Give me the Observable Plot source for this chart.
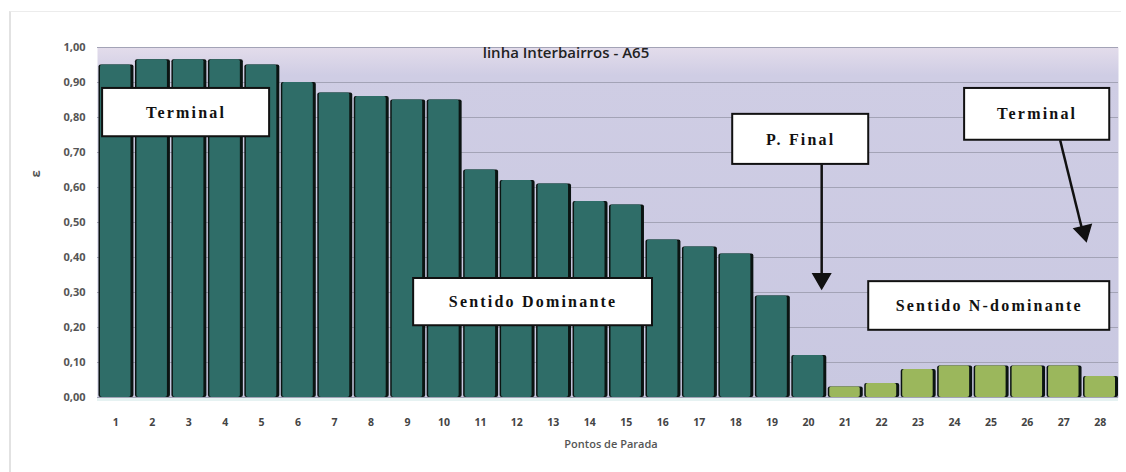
<!DOCTYPE html>
<html>
<head>
<meta charset="utf-8">
<script src="https://cdn.jsdelivr.net/npm/d3@7"></script>
<script src="https://cdn.jsdelivr.net/npm/@observablehq/plot@0.6"></script>
<style>
  html, body { margin: 0; padding: 0; background: #fff; }
  #wrap { position: relative; width: 1126px; height: 472px; }
  #border { position: absolute; left: 9px; top: 11px; width: 1112px; height: 470px; border-left: 2px solid #e2e2e2; border-top: 1px solid #ececec; box-sizing: border-box; }
  #chart { position: absolute; left: 0; top: 0; }
</style>
</head>
<body>
<div id="wrap"><div id="border"></div><div id="chart"></div></div>
<script>
// ---- data ----
const title = "linha Interbairros - A65";
const xLabel = "Pontos de Parada";
const yLabel = "ε";
const stops = d3.range(1, 29);
const values = [0.95, 0.965, 0.965, 0.965, 0.95, 0.90, 0.87, 0.86, 0.85, 0.85,
                0.65, 0.62, 0.61, 0.56, 0.55, 0.45, 0.43, 0.41, 0.29, 0.12,
                0.03, 0.04, 0.08, 0.09, 0.09, 0.09, 0.09, 0.06];
const lastDominant = 20;
const yTicks = d3.range(0, 1.0001, 0.1).map(v => +v.toFixed(2));

// annotation boxes (data coordinates: stop index, value)
const boxLabels = ["Terminal", "Sentido Dominante", "P. Final", "Terminal", "Sentido N-dominante"];
const boxX1 = [0.64, 9.17, 17.92, 24.28, 21.65];
const boxX2 = [5.22, 15.72, 21.65, 28.26, 28.26];
const boxY1 = [0.745, 0.205, 0.666, 0.735, 0.192];
const boxY2 = [0.883, 0.340, 0.809, 0.883, 0.331];
// arrows
const arrowX1 = [20.36, 26.90];
const arrowY1 = [0.666, 0.735];
const arrowX2 = [20.36, 27.55];
const arrowY2 = [0.325, 0.46];

const bars = stops.map((s, i) => ({stop: s, value: values[i], series: s <= lastDominant ? "Dominante" : "N-dominante"}));
const boxes = boxLabels.map((label, i) => ({label, x1: boxX1[i], x2: boxX2[i], y1: boxY1[i], y2: boxY2[i]}));
const arrows = arrowX1.map((x1, i) => ({x1, y1: arrowY1[i], x2: arrowX2[i], y2: arrowY2[i]}));

const fmt = v => v.toFixed(2).replace(".", ",");
// pixel geometry of the frame, used only to orient the arrowheads
const pxPerX = (1126 - 97 - 8) / 28, pxPerY = (472 - 47 - 75);
const headAngle = d => Math.atan2(-(d.y2 - d.y1) * pxPerY, (d.x2 - d.x1) * pxPerX) * 180 / Math.PI - 90;

const chart = Plot.plot({
  width: 1126,
  height: 472,
  marginLeft: 97,
  marginRight: 8,
  marginTop: 47,
  marginBottom: 75,
  style: {fontFamily: "'Open Sans', 'Liberation Sans', sans-serif", background: "transparent"},
  x: {domain: [0.5, 28.5], axis: null},
  y: {domain: [0, 1], axis: null},
  color: {domain: ["Dominante", "N-dominante"], range: ["#2f6d68", "#9bb75c"]},
  marks: [
    Plot.frame({fill: "url(#bgGrad)", stroke: null}),
    Plot.ruleY(yTicks, {stroke: "#a3a3b6", strokeWidth: 1.2}),
    // dark edge behind each bar
    Plot.rectY(bars, {x1: d => d.stop - 0.5, x2: d => d.stop + 0.5, y: "value", fill: "#0b1412", insetLeft: 1.5, insetRight: 0, rx: 2}),
    Plot.rectY(bars, {x1: d => d.stop - 0.5, x2: d => d.stop + 0.5, y: "value", fill: "series", insetLeft: 3, insetRight: 3, rx: 2}),
    Plot.ruleY([0], {stroke: "#e6f2f2", strokeWidth: 3, dy: 2}),
    Plot.axisY(yTicks, {tickSize: 0, tickPadding: 12, tickFormat: fmt, fontSize: 11, fontWeight: "bold", fill: "#555", label: null}),
    Plot.axisX(stops, {tickSize: 0, tickPadding: 21, fontSize: 10.5, fontWeight: "bold", fill: "#444", label: null}),
    Plot.text([xLabel], {frameAnchor: "bottom", dx: 3, dy: 50, fontSize: 11, fill: "#555", fontWeight: "600"}),
    Plot.text([yLabel], {frameAnchor: "left", dx: -62, dy: -45, rotate: -90, fontSize: 13, fontWeight: "bold", fill: "#555"}),
    Plot.text([title], {frameAnchor: "top", dx: -42, dy: 0, fontSize: 15, fontWeight: "600", fill: "#222"}),
    // annotation boxes
    Plot.rect(boxes, {x1: "x1", x2: "x2", y1: "y1", y2: "y2", fill: "white", stroke: "#111", strokeWidth: 2}),
    Plot.text(boxes, {x: d => (d.x1 + d.x2) / 2, y: d => (d.y1 + d.y2) / 2, text: "label", fontFamily: "'Liberation Serif', 'DejaVu Serif', serif", fontWeight: "bold", fontSize: 16, fill: "#111"}),
    // arrows: shaft + filled triangular head
    Plot.link(arrows, {x1: "x1", y1: "y1", x2: "x2", y2: "y2", stroke: "#111", strokeWidth: 2.5}),
    Plot.dot(arrows, {x: "x2", y: "y2", symbol: "triangle", r: 6.5, fill: "#111", stroke: "#111", rotate: d => headAngle(d) + 180, dy: -5})
  ]
});

const defs = d3.select(chart).insert("defs", ":first-child");
const g = defs.append("linearGradient").attr("id", "bgGrad").attr("x1", 0).attr("y1", 0).attr("x2", 0).attr("y2", 1);
g.append("stop").attr("offset", "0%").attr("stop-color", "#e3dceb");
g.append("stop").attr("offset", "8%").attr("stop-color", "#cfcde4");
g.append("stop").attr("offset", "100%").attr("stop-color", "#c9c8e1");

// letter-spacing of the annotation labels
d3.select(chart).selectAll("text")
  .filter(function () { return boxLabels.includes(this.textContent); })
  .style("letter-spacing", "2.2px");

document.getElementById("chart").appendChild(chart);
</script>
</body>
</html>
